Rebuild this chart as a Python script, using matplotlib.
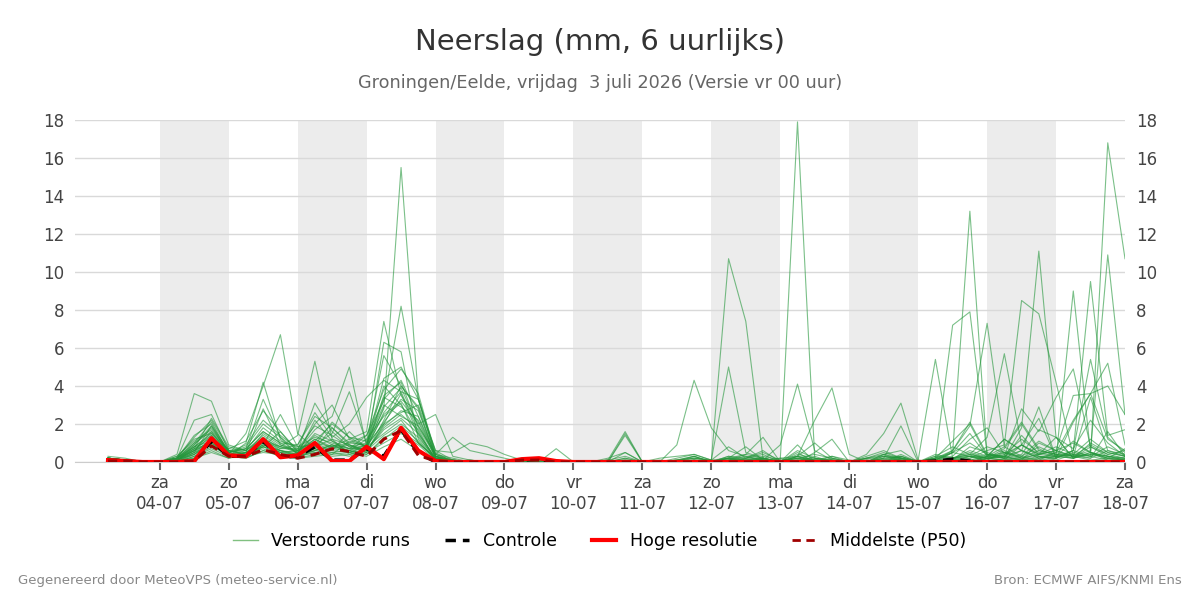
import matplotlib
matplotlib.use("Agg")
import matplotlib.pyplot as plt
import numpy as np
import pandas as pd

# 6-hourly time steps, 03-07 06:00 .. 18-07 00:00
times = pd.date_range("2026-07-03 06:00", periods=60, freq="6h")

# ensemble members (mm per 6 h), grouped per day
members = [
    [0.2,0.1,0, 0,0.4,3.6,3.2, 0.9,0.6,1.2,0.8, 0.5,1.4,0.9,0.6, 1.2,2.4,3.1,1.0, 0.2,0.1,0,0, 0,0,0.1,0, 0,0,0,0.1, 0,0,0.1,0.3, 0,0.1,0.2,0.5, 0.1,17.9,0.2,0.1, 0,0,0.1,0.3, 0,0.2,0.1,0, 0.3,0.5,0.2,0.1, 0.2,0.6,0.3,0.1, 0.2],
    [0.1,0.1,0, 0,0.2,2.2,2.5, 0.6,0.4,0.8,1.6, 0.6,0.9,2.1,1.3, 0.8,3.5,4.2,1.8, 0.3,0,0.1,0, 0,0,0,0, 0,0,0.1,0, 0,0.2,0.3,0.4, 0.1,10.7,7.4,0.2, 0,0.3,0.1,0, 0,0.1,0,0, 0,0.3,0.8,0.4, 0.2,0.1,0.9,0.3, 0.1,0.4,1.2,0.5, 0.3],
    [0.3,0.2,0, 0,0,0.5,1.9, 0.4,1.5,4.0,6.7, 1.5,0.7,1.8,0.9, 0.6,1.9,2.7,2.4, 0.2,0,0,0, 0,0,0.1,0, 0,0,0,0.2, 0,0,0.9,4.3, 1.8,0.6,0.3,0.1, 0,0.2,0,0, 0,0,0.4,0.2, 0,0.1,0.5,1.0, 0.4,0.2,0.6,0.2, 0.3,1.1,0.5,0.2, 0.1],
    [0.1,0.1,0, 0,0.1,0.8,1.4, 0.3,1.0,4.2,1.2, 0.4,2.2,1.1,0.5, 0.9,4.4,5.0,3.3, 0.6,0.1,0,0, 0,0,0,0, 0,0,0.2,0.5, 0,0,0.1,0.2, 0.1,5.0,0.5,0.2, 0,0.1,0.2,0, 0,0,0,0.1, 0,0.4,0.2,0.6, 0.3,1.2,0.6,0.2, 0.5,2.2,3.6,1.2, 0.6],
    [0.2,0.1,0, 0,0.2,1.0,2.1, 0.5,0.3,1.1,0.8, 1.4,5.3,1.2,0.4, 0.7,2.6,3.7,1.6, 0.1,0,0,0, 0,0,0,0, 0,0,0,0, 0,0,0.2,0.4, 0.1,0.2,0,0.1, 0.9,4.1,0.6,0.1, 0,0.2,0.5,0.2, 0,0.1,0,0.3, 0.2,0.1,0.3,0.8, 0.4,0.3,0.2,1.6, 0.3],
    [0.1,0,0, 0,0.1,0.6,1.6, 0.4,0.5,2.8,0.9, 0.6,1.7,2.4,5.0, 0.8,2.1,3.3,2.7, 0.3,0.1,0,0, 0,0,0,0, 0,0,0.1,0.3, 0,0,0,0.1, 0,0.1,0.4,0.2, 0,0.3,2.2,3.9, 0.4,0,0.1,0, 0,0,0.2,0.1, 0.3,0.8,2.1,0.7, 0.3,0.2,0.5,0.1, 0],
    [0.2,0.1,0, 0,0,0.4,1.2, 0.7,0.6,1.8,1.1, 0.8,0.9,1.5,3.7, 1.0,3.0,2.4,1.9, 0.4,0,0.1,0, 0,0,0,0, 0,0,0,0, 0,0,0.1,0.2, 0,0.2,0.1,0.3, 0.1,0.2,0.4,0.2, 0,0.4,1.5,3.1, 0.1,0,0.2,0.4, 0.2,0.3,0.9,0.4, 0.8,0.4,0.2,0.6, 0.3],
    [0.1,0.1,0, 0,0.1,0.9,1.8, 0.5,0.8,2.0,1.3, 0.4,1.0,0.8,1.2, 1.6,7.4,3.5,2.1, 0.2,0,0,0, 0,0,0,0, 0,0,0,0, 0,0,0,0.1, 0,0.3,0.2,0.1, 0,0.1,0,0.1, 0,0,0.2,0.1, 0.1,5.4,0.2,0.3, 0.1,0.6,0.2,0.4, 1.3,0.2,0.4,0.3, 0.2],
    [0.2,0.1,0, 0,0.3,1.2,1.5, 0.6,0.4,0.9,0.5, 0.3,0.6,0.9,0.7, 0.9,2.8,15.5,3.4, 0.3,0.1,0,0, 0,0,0,0, 0,0,0.1,1.6, 0,0,0,0, 0,0.1,0.3,0.1, 0,0.2,0.1,0, 0,0.3,0.6,0.2, 0,0.2,7.2,7.9, 0.4,0.2,0.1,0.3, 0.2,0.5,0.3,0.8, 0.4],
    [0.1,0.1,0, 0,0.2,1.4,2.0, 0.5,0.7,1.6,1.0, 0.9,2.4,1.8,1.0, 1.4,3.2,8.2,3.3, 0.5,0,0,0, 0,0,0,0, 0,0,0,0.1, 0,0,0.1,0.3, 0,0.2,0.8,0.1, 0,0,0.3,0, 0,0.1,0,0.2, 0,0.1,0.5,13.2, 0.4,0.3,0.1,1.0, 0.6,0.3,0.9,0.4, 0.2],
    [0.2,0.1,0, 0,0.1,0.7,1.3, 0.3,0.5,1.2,0.6, 0.4,0.8,0.6,1.6, 0.7,6.3,5.8,1.2, 0.1,0,0,0, 0,0,0,0, 0,0,0,0, 0,0,0,0.1, 0,0.1,0,0.2, 0,0.4,0.2,0.1, 0,0.2,0.1,0, 0,0.2,0.6,1.9, 7.3,0.8,0.3,0.1, 0.5,0.3,3.4,0.6, 0.4],
    [0.1,0,0, 0,0.2,0.6,1.0, 0.4,0.6,1.4,0.8, 0.6,1.1,2.0,1.3, 1.1,5.6,4.0,2.8, 0.2,0.1,0,0, 0,0,0,0, 0,0,0,0, 0,0.1,0,0, 0,0.3,0.1,0.2, 0,0,0,0.3, 0.1,0,0.2,0.3, 0,0.3,0.2,0.4, 1.3,5.7,0.9,0.4, 0.6,1.0,0.5,0.2, 0.7],
    [0.2,0.1,0, 0,0.3,1.1,1.7, 0.6,0.4,0.9,2.5, 0.8,1.3,1.0,0.7, 1.4,3.8,4.9,3.6, 0.4,0.2,0,0, 0,0,0,0, 0,0,0,0, 0,0,0,0.1, 0,0.2,0.1,0, 0,0.1,0,0.2, 0,0.2,0.4,0.1, 0,0,0.1,0.2, 0.6,0.9,8.5,7.8, 4.2,0.3,0.1,0.2, 0.1],
    [0.1,0.1,0, 0,0.1,0.5,0.9, 0.3,0.2,0.6,0.4, 0.3,0.5,0.7,0.9, 0.5,2.0,3.6,1.4, 0.1,0,0,0, 0,0,0,0, 0,0,0,0.2, 0,0,0,0, 0,0,0.2,0.6, 0,0,0.1,0, 0,0,0.3,0.2, 0,0,0,0.1, 0.3,0.2,1.8,11.1, 1.3,0.2,0.5,0.3, 0.1],
    [0.2,0.1,0, 0,0.2,0.8,1.5, 0.5,0.9,2.2,1.4, 0.7,1.9,1.4,0.8, 1.0,3.4,2.9,2.2, 0.3,0,0,0, 0,0,0,0, 0,0,0,0, 0,0,0,0, 0,0,0,0.1, 0.2,0,0.1,0.3, 0,0,0.2,1.9, 0,0.1,0,0.2, 0.4,0.3,0.6,0.3, 0.2,9.0,0.5,0.3, 0.2],
    [0.1,0.1,0, 0,0,0.3,0.8, 0.4,0.3,1.0,0.6, 0.5,0.7,0.4,1.1, 0.8,1.5,2.2,1.0, 0.2,0,0,0, 0,0,0,0, 0,0,0,0, 0,0,0,0, 0,0,0,0, 0.2,0.3,0.1,0, 0,0,0,0.2, 0,0.2,0.5,0.3, 0.8,0.5,0.2,0.4, 0.3,0.6,9.5,1.4, 1.7],
    [0.2,0.1,0, 0,0.1,0.6,1.1, 0.3,0.5,0.8,0.4, 0.4,0.6,0.9,0.5, 0.6,1.8,2.5,1.7, 0.1,0,0,0, 0,0,0,0, 0,0,0,0, 0,0,0,0, 0,0,0.1,0.2, 0,0,0,0.1, 0,0,0.1,0.1, 0,0,0.1,0.3, 0.2,0.4,1.2,0.5, 0.3,0.4,0.3,16.8, 10.7],
    [0.1,0,0, 0,0.2,0.9,1.9, 0.6,0.4,1.5,0.9, 0.5,1.2,0.8,0.6, 0.9,4.0,3.0,1.5, 0.2,0,0,0, 0,0,0,0, 0,0,0,0, 0,0,0,0, 0,0.1,0,0, 0,0.2,0.1,0, 0,0,0.3,0.1, 0,0,0.2,0.5, 0.2,0.7,2.0,0.6, 0.4,0.3,0.6,10.9, 2.5],
    [0.2,0.1,0, 0,0.1,0.4,1.0, 0.5,0.7,3.3,1.3, 0.6,3.1,1.6,0.8, 0.5,2.2,4.0,2.9, 0.3,0,0,0, 0,0,0,0, 0,0,0,0.1, 0,0,0,0.1, 0,0.2,0.4,1.3, 0,0,0,0, 0,0.2,0.3,0.2, 0,0.1,0.6,2.1, 0.4,0.3,2.8,1.6, 3.4,4.9,0.8,0.4, 0.6],
    [0.1,0.1,0, 0,0.2,1.3,2.2, 0.7,1.1,2.7,1.6, 0.5,2.0,3.0,1.2, 0.8,3.3,4.3,2.4, 0.4,0.1,0,0, 0,0,0,0, 0,0,0,0, 0,0,0,0, 0,0,0,0.2, 0,0.3,1.0,0.2, 0,0,0,0.4, 0,0.2,1.1,2.0, 0.3,1.2,0.6,2.9, 0.2,0.6,5.4,1.3, 0.5],
    [0.2,0.1,0, 0,0.1,0.7,2.3, 0.8,0.6,1.3,0.7, 0.9,2.6,1.3,2.0, 3.4,4.3,3.7,3.3, 0.3,0,0,0, 0,0,0,0, 0,0,0,1.5, 0,0,0,0.2, 0.1,0.8,0.2,0.4, 0,0,0.5,1.2, 0,0,0.4,0.6, 0,0.2,0.3,1.2, 1.8,0.4,0.9,2.3, 0.2,2.1,3.6,5.2, 0.9],
    [0.1,0,0, 0,0,0.2,0.6, 0.2,0.4,0.7,0.3, 0.2,0.4,0.5,0.6, 0.4,1.2,1.9,1.1, 0.1,0,0,0, 0,0,0,0, 0,0,0,1.4, 0,0,0,0, 0,0,0,0.1, 0,0,0,0, 0,0.1,0,0, 0,0,0.1,0.8, 0.5,0.2,1.4,0.4, 0.6,3.5,3.6,4.0, 2.5],
    [0.2,0.1,0, 0,0.1,0.5,1.2, 0.4,0.3,0.8,0.5, 0.4,0.8,1.2,0.9, 0.6,1.4,2.0,1.3, 0.2,0.1,0,0, 0,0,0,0, 0,0,0,0.5, 0,0,0,0, 0,0,0,0, 0,0.5,0,0, 0,0,0,0, 0,0,0.5,1.5, 0.3,0.2,0.4,1.7, 1.3,0.7,2.2,1.0, 0.3],
    [0.1,0.1,0, 0,0.2,1.0,1.6, 0.6,0.5,1.1,0.7, 0.7,1.0,0.6,0.5, 0.8,2.5,3.2,2.0, 2.5,0.3,0.1,0, 0,0,0.2,0.1, 0,0,0.1,0, 0,0,0,0, 0,0,0.1,0, 0,0.6,0.2,0, 0,0,0,0, 0,0.1,0.2,0.3, 0.1,0.5,0.3,1.1, 0.6,0.3,0.4,0.2, 0.1],
    [0.2,0.1,0, 0,0.1,0.6,1.4, 0.5,0.7,1.6,1.0, 0.5,1.5,1.1,0.7, 0.7,2.9,3.9,1.9, 0.4,1.3,0.6,0.4, 0.2,0,0,0, 0,0,0,0, 0,0,0,0, 0,0,0,0, 0,0.9,0,0, 0,0,0,0.1, 0,0,0,0, 0.2,0.3,0.1,0.2, 0.3,0.2,0.8,0.3, 0.1],
    [0.1,0,0, 0,0.2,0.8,1.1, 0.4,0.3,0.9,0.6, 0.3,0.6,0.8,1.0, 0.9,2.0,2.6,3.0, 0.6,0.5,1.0,0.8, 0.4,0.1,0,0.7, 0,0,0,0, 0,0,0,0.3, 0,0.2,0,0.1, 0,0.3,0,0.1, 0,0,0,0.3, 0,0,0.1,0, 0.2,0.1,0.2,0.6, 0.4,0.2,1.0,0.5, 0.3],
    [0.2,0.1,0, 0,0,0.3,0.7, 0.3,0.2,0.6,0.3, 0.2,0.3,0.4,0.5, 0.3,0.8,1.2,0.6, 0.1,0,0,0, 0,0,0,0, 0,0,0,0, 0,0,0,0, 0,0,0,0, 0,0,0,0, 0,0,0,0, 0,0,0,0, 0,0,0,0, 0,0,0,0, 0],
    [0.1,0.1,0, 0,0.1,0.4,0.9, 0.4,0.3,0.5,0.4, 0.3,0.5,0.3,0.4, 0.5,1.0,1.5,0.9, 0.1,0,0,0, 0,0,0,0, 0,0,0,0, 0,0,0,0, 0,0,0,0, 0,0.1,0,0, 0,0,0,0, 0,0,0,0, 0,0,0.1,0, 0,0,0,0, 0],
    [0.2,0.1,0, 0,0.1,0.2,0.5, 0.2,0.4,0.8,0.6, 0.4,0.7,0.5,0.3, 0.6,1.7,2.3,1.5, 0.2,0,0,0, 0,0,0,0, 0,0,0,0, 0,0,0,0, 0,0,0,0, 0,0,0,0, 0,0,0,0, 0,0,0,0, 0,0,0,0, 0,0,0,0, 0],
    [0.1,0.1,0, 0,0.2,0.7,1.0, 0.3,0.5,1.0,0.5, 0.6,1.2,0.7,0.6, 0.4,1.3,1.6,1.0, 0.2,0,0,0, 0,0,0,0, 0,0,0,0, 0,0,0,0, 0,0,0,0, 0,0,0,0, 0,0,0,0, 0,0,0,0, 0,0,0,0, 0,0,0,0, 0],
]

controle = [0.1,0.05,0, 0,0,0.05,1.1, 0.3,0.3,1.1,0.25, 0.3,0.8,0.1,0.1, 0.7,0.3,1.7,0.5, 0,0,0,0, 0,0.1,0.15,0, 0,0,0,0, 0,0,0,0, 0,0,0,0, 0,0,0,0, 0,0,0,0, 0,0.05,0.15,0.05, 0,0,0,0, 0,0,0,0, 0]
hoge_res = [0.1,0.05,0, 0,0,0.05,1.25, 0.35,0.3,1.2,0.25, 0.35,1.0,0.05,0.05, 0.8,0.15,1.8,0.6, 0.05,0,0,0, 0,0.15,0.2,0.05, 0,0,0,0, 0,0,0,0, 0,0,0,0, 0,0,0,0, 0,0,0,0, 0,0,0,0, 0,0,0,0, 0,0,0,0, 0]
p50 = [0.05,0.05,0, 0,0,0.05,0.85, 0.3,0.3,0.65,0.4, 0.2,0.4,0.7,0.55, 0.3,1.2,1.65,0.35, 0.05,0,0,0, 0,0.1,0.1,0, 0,0,0,0, 0,0,0,0, 0,0,0,0, 0,0,0,0, 0,0,0,0, 0,0,0,0, 0,0,0,0, 0,0,0,0, 0]

days = pd.date_range("2026-07-04", "2026-07-18", freq="D")
weekdays = ["ma", "di", "wo", "do", "vr", "za", "zo"]
day_labels = ["%s\n%s" % (weekdays[d.weekday()], d.strftime("%d-%m")) for d in days]

fig = plt.figure(figsize=(12, 6), dpi=100)
ax = fig.add_axes([0.0625, 0.23, 0.875, 0.57])

for d in days[:-1:2]:
    ax.axvspan(d, d + pd.Timedelta(days=1), color="#ececec", lw=0, zorder=0)
for y in range(0, 19, 2):
    ax.axhline(y, color="#d9d9d9", lw=1, zorder=0.5)

for m in members:
    ax.plot(times, m, color="#23963a", lw=0.8, alpha=0.6, zorder=2)
ax.plot(times, controle, color="black", lw=2.5, ls=(0, (3, 2)), zorder=3)
ax.plot(times, hoge_res, color="#ff0000", lw=3, zorder=4)
ax.plot(times, p50, color="#a00000", lw=2.2, ls=(0, (3, 2)), zorder=5)

ax.set_xlim(pd.Timestamp("2026-07-02 18:30"), pd.Timestamp("2026-07-18 00:00"))
ax.set_ylim(0, 18)
ax.set_yticks(range(0, 19, 2))
ax.set_xticks(days)
ax.set_xticklabels(day_labels)
ax.tick_params(axis="y", length=0, pad=8, labelsize=12, labelcolor="#444444",
               labelleft=True, labelright=True)
ax.tick_params(axis="x", length=6, width=1.5, color="#666666", pad=3,
               labelsize=12, labelcolor="#444444")
for s in ["left", "right", "top"]:
    ax.spines[s].set_visible(False)
ax.spines["bottom"].set_color("#cccccc")

fig.text(0.5, 0.93, "Neerslag (mm, 6 uurlijks)", ha="center", va="center",
         fontsize=21, color="#333333")
fig.text(0.5, 0.861, "Groningen/Eelde, vrijdag  3 juli 2026 (Versie vr 00 uur)",
         ha="center", va="center", fontsize=12.7, color="#666666")

handles = [
    plt.Line2D([], [], color="#80c080", lw=1),
    plt.Line2D([], [], color="black", lw=2.5, ls=(0, (3, 2))),
    plt.Line2D([], [], color="#ff0000", lw=3),
    plt.Line2D([], [], color="#a00000", lw=2, ls=(0, (3, 2))),
]
labels = ["Verstoorde runs", "Controle", "Hoge resolutie", "Middelste (P50)"]
fig.legend(handles, labels, loc="center", bbox_to_anchor=(0.5, 0.098), ncol=4,
           frameon=False, fontsize=12.5, handlelength=1.4, columnspacing=2.0)

fig.text(0.015, 0.033, "Gegenereerd door MeteoVPS (meteo-service.nl)", ha="left",
         va="center", fontsize=9.5, color="#888888")
fig.text(0.985, 0.033, "Bron: ECMWF AIFS/KNMI Ens", ha="right",
         va="center", fontsize=9.5, color="#888888")

fig.savefig("out.png", dpi=100)
